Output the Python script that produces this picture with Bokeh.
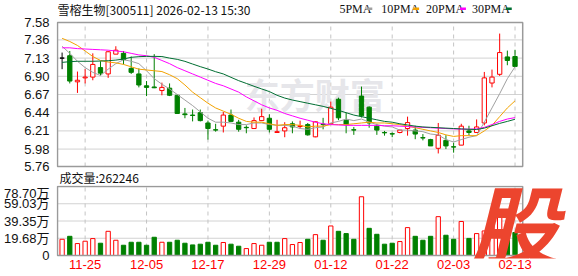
from bokeh.plotting import figure
from bokeh.models import Range1d, FixedTicker, ColumnDataSource
from bokeh.core.properties import value
from bokeh.layouts import column
from bokeh.embed import file_html
from bokeh.resources import INLINE

# ---------------- data ----------------
dates = ["11-20", "11-21", "11-24", "11-25", "11-26", "11-27", "11-28", "12-01", "12-02", "12-03",
         "12-04", "12-05", "12-08", "12-09", "12-10", "12-11", "12-12", "12-15", "12-16", "12-17",
         "12-18", "12-19", "12-22", "12-23", "12-24", "12-25", "12-26", "12-29", "12-30", "12-31",
         "01-05", "01-06", "01-07", "01-08", "01-09", "01-12", "01-13", "01-14", "01-15", "01-16",
         "01-19", "01-20", "01-21", "01-22", "01-23", "01-26", "01-27", "01-28", "01-29", "01-30",
         "02-02", "02-03", "02-04", "02-05", "02-06", "02-09", "02-10", "02-11", "02-12", "02-13"]

open_ = [7.13, 7.16, 6.83, 6.88, 6.89, 7.01, 6.93, 7.18, 7.19, 7.00,
         6.93, 6.78, 6.765, 6.72, 6.75, 6.66, 6.425, 6.41, 6.44, 6.31,
         6.225, 6.27, 6.41, 6.32, 6.255, 6.24, 6.34, 6.37, 6.19, 6.21,
         6.30, 6.265, 6.29, 6.135, 6.295, 6.30, 6.61, 6.345, 6.225, 6.65,
         6.51, 6.27, 6.19, 6.175, 6.19, 6.24, 6.22, 6.125, 6.10, 5.99,
         6.09, 6.01, 6.03, 6.21, 6.19, 6.31, 6.815, 6.925, 7.145, 7.15]
high = [7.20, 7.22, 6.96, 6.99, 7.19, 7.09, 7.22, 7.28, 7.22, 7.15,
        7.00, 6.84, 7.18, 6.82, 6.81, 6.67, 6.50, 6.48, 6.48, 6.34,
        6.30, 6.45, 6.48, 6.35, 6.28, 6.38, 6.49, 6.42, 6.35, 6.32,
        6.33, 6.34, 6.31, 6.33, 6.375, 6.58, 6.63, 6.44, 6.26, 6.77,
        6.52, 6.30, 6.21, 6.19, 6.225, 6.39, 6.275, 6.17, 6.11, 6.31,
        6.155, 6.06, 6.30, 6.275, 6.355, 6.955, 6.985, 7.44, 7.225, 7.235]
low = [6.99, 6.81, 6.69, 6.81, 6.85, 6.91, 6.88, 7.18, 7.05, 6.93,
       6.76, 6.65, 6.75, 6.66, 6.65, 6.43, 6.37, 6.33, 6.33, 6.10,
       6.20, 6.19, 6.33, 6.20, 6.18, 6.24, 6.34, 6.19, 6.19, 6.13,
       6.18, 6.24, 6.15, 6.13, 6.23, 6.30, 6.345, 6.18, 6.16, 6.38,
       6.25, 6.16, 6.15, 6.13, 6.18, 6.15, 6.105, 6.09, 6.02, 5.925,
       5.98, 5.935, 6.03, 6.155, 6.19, 6.28, 6.76, 6.905, 7.04, 7.025]
close = [7.13, 6.84, 6.85, 6.89, 7.05, 6.94, 7.21, 7.23, 7.11, 6.95,
         6.79, 6.76, 6.755, 6.76, 6.66, 6.43, 6.415, 6.405, 6.34, 6.24,
         6.22, 6.41, 6.33, 6.23, 6.25, 6.34, 6.39, 6.23, 6.20, 6.25,
         6.26, 6.275, 6.16, 6.325, 6.29, 6.51, 6.375, 6.29, 6.22, 6.40,
         6.31, 6.22, 6.185, 6.17, 6.22, 6.315, 6.17, 6.12, 6.02, 6.155,
         6.02, 6.005, 6.27, 6.19, 6.26, 6.88, 6.89, 7.20, 7.10, 7.025]
prev_close = 7.10

volume = [185000, 219000, 136000, 163000, 193000, 140000, 276000, 174000, 117000, 151000,
          151000, 117000, 208000, 151000, 151000, 174000, 140000, 121000, 129000, 151000,
          117000, 148000, 129000, 106000, 79000, 136000, 117000, 151000, 151000, 193000,
          125000, 148000, 185000, 238000, 174000, 337000, 276000, 250000, 185000, 670000,
          310000, 242000, 129000, 140000, 159000, 318000, 219000, 174000, 219000, 443000,
          231000, 185000, 388000, 195000, 250000, 280000, 455000, 520000, 325000, 262246]

ma5 = [7.28, 7.19, 7.09, 7.01, 6.95, 6.91, 6.99, 7.06, 7.11, 7.09,
       7.06, 6.97, 6.87, 6.80, 6.74, 6.67, 6.60, 6.53, 6.45, 6.37,
       6.32, 6.32, 6.31, 6.29, 6.29, 6.31, 6.31, 6.29, 6.28, 6.28,
       6.27, 6.24, 6.23, 6.25, 6.26, 6.31, 6.33, 6.36, 6.34, 6.36,
       6.32, 6.29, 6.27, 6.26, 6.22, 6.22, 6.21, 6.20, 6.17, 6.16,
       6.10, 6.07, 6.10, 6.13, 6.15, 6.32, 6.50, 6.68, 6.87, 7.02]
ma10 = [7.38, 7.34, 7.29, 7.22, 7.15, 7.10, 7.08, 7.07, 7.05, 7.02,
        6.99, 6.98, 6.97, 6.96, 6.92, 6.87, 6.79, 6.70, 6.63, 6.56,
        6.50, 6.46, 6.42, 6.37, 6.33, 6.32, 6.32, 6.30, 6.28, 6.29,
        6.29, 6.28, 6.26, 6.27, 6.27, 6.29, 6.29, 6.29, 6.30, 6.31,
        6.32, 6.31, 6.31, 6.30, 6.29, 6.27, 6.25, 6.23, 6.21, 6.19,
        6.16, 6.14, 6.15, 6.15, 6.15, 6.21, 6.28, 6.39, 6.50, 6.59]
ma20 = [7.26, 7.26, 7.25, 7.245, 7.24, 7.235, 7.23, 7.22, 7.21, 7.19,
        7.17, 7.16, 7.14, 7.10, 7.06, 7.01, 6.97, 6.93, 6.89, 6.85,
        6.81, 6.78, 6.74, 6.70, 6.64, 6.59, 6.54, 6.50, 6.47, 6.43,
        6.40, 6.37, 6.345, 6.32, 6.30, 6.29, 6.285, 6.28, 6.28, 6.28,
        6.28, 6.28, 6.275, 6.275, 6.27, 6.265, 6.26, 6.255, 6.25, 6.245,
        6.24, 6.235, 6.232, 6.232, 6.235, 6.255, 6.29, 6.33, 6.36, 6.378]
ma30 = [7.076, 7.085, 7.09, 7.09, 7.09, 7.093, 7.097, 7.105, 7.118, 7.14,
        7.148, 7.152, 7.152, 7.15, 7.13, 7.114, 7.089, 7.055, 7.022, 6.992,
        6.958, 6.93, 6.887, 6.845, 6.81, 6.774, 6.74, 6.707, 6.66, 6.625,
        6.60, 6.58, 6.56, 6.54, 6.52, 6.495, 6.47, 6.44, 6.41, 6.39,
        6.37, 6.35, 6.33, 6.32, 6.30, 6.285, 6.27, 6.26, 6.255, 6.25,
        6.245, 6.24, 6.235, 6.23, 6.228, 6.245, 6.275, 6.305, 6.33, 6.357]

price_ticks = [5.76, 5.98, 6.21, 6.44, 6.67, 6.90, 7.13, 7.36, 7.58]
price_tick_labels = ["5.76", "5.98", "6.21", "6.44", "6.67", "6.90", "7.13", "7.36", "7.58"]
vol_ticks = [0, 196750, 393500, 590250, 787000]
vol_tick_labels = ["0", "19.68万", "39.35万", "59.03万", "78.70万"]
label_idx = [3, 11, 19, 27, 35, 43, 51, 59]

title_text = "雪榕生物[300511] 2026-02-13 15:30"
vol_title = "成交量:262246"
legend_names = ["5PMA", "10PMA", "20PMA", "30PMA"]
ma_colors = ["#A0A0A0", "#F2A200", "#FF00FF", "#006E32"]
logo_text = "股"

RED = "#FF0000"
GREEN = "#008000"
BORDER = "#9A9A9A"
GRID = "#D2D2D2"
VGRID = "#C4C4C4"
FONT = "Liberation Sans"
CJK = "Noto Sans CJK SC"

# ---------------- derived styles ----------------
n = len(close)
idx = list(range(n))
c_col, c_fill = [], []
for o, c in zip(open_, close):
    if c > o:
        c_col.append(RED); c_fill.append("white")
    elif c < o:
        c_col.append(GREEN); c_fill.append(GREEN)
    else:
        c_col.append("black"); c_fill.append("black")
body_top = [max(o, c) for o, c in zip(open_, close)]
body_bot = [min(o, c) for o, c in zip(open_, close)]
prevs = [prev_close] + close[:-1]
v_col = [RED if c >= pc else GREEN for c, pc in zip(close, prevs)]
v_fill = ["white" if col == RED else GREEN for col in v_col]

src = ColumnDataSource(dict(x=idx, o=open_, h=high, l=low, c=close,
                            bt=body_top, bb=body_bot, col=c_col, fill=c_fill,
                            v=volume, vcol=v_col, vfill=v_fill))

# ---------------- geometry ----------------
XPX = 7.706              # pixels per candle slot
X0 = -0.73               # data x at frame left (canvas x = 54)
XL, XR = -0.6, 60.0      # panel borders in data x
FRAME_W = 578 - 54
def px_x(px):
    return X0 + (px - 54) / XPX

P_H = 185
PY = (price_ticks[-1] - price_ticks[0]) / 144.0
p_end = price_ticks[-1] + 22 * PY
p_start = price_ticks[0] - (P_H - 166) * PY
def px_py(py):
    return p_end - py * PY

# ---------------- price panel ----------------
p = figure(width=578, height=P_H, x_range=Range1d(X0, X0 + FRAME_W / XPX),
           y_range=Range1d(p_start, p_end),
           output_backend="svg", toolbar_location=None,
           min_border_left=54, min_border_right=0, min_border_top=0, min_border_bottom=0)
p.background_fill_color = "white"
p.border_fill_color = "white"
p.outline_line_color = None
p.xaxis.visible = False
p.xgrid.visible = False
p.ygrid.visible = False
p.yaxis.ticker = FixedTicker(ticks=price_ticks)
p.yaxis.major_label_overrides = {t: s for t, s in zip(price_ticks, price_tick_labels)}
p.yaxis.axis_line_color = None
p.yaxis.major_tick_line_color = None
p.yaxis.minor_tick_line_color = None
p.yaxis.major_label_standoff = 1
p.yaxis.major_label_text_font = FONT
p.yaxis.major_label_text_font_size = "13px"
p.yaxis.major_label_text_color = "#111111"

# grid lines within the panel
k = len(price_ticks) - 2
p.segment(x0=[XL] * k, y0=price_ticks[1:-1], x1=[XR] * k, y1=price_ticks[1:-1],
          line_color=GRID, line_width=1)
p.segment(x0=label_idx, y0=[price_ticks[0]] * len(label_idx), x1=label_idx,
          y1=[price_ticks[-1]] * len(label_idx), line_color=VGRID, line_dash="4 4", line_width=1)

# watermark
p.text(x=[px_x(243)], y=[px_py(93)], text=["东方财富"], text_font=value(CJK),
       text_font_size="35px", text_font_style="bold", text_color="#E6E6EA",
       text_baseline="middle")

# candles
p.segment(x0="x", y0="l", x1="x", y1="h", color="col", line_width=1, source=src)
p.vbar(x="x", width=0.56, top="bt", bottom="bb", fill_color="fill", line_color="col",
       line_width=1, source=src)
for ma, col in zip([ma5, ma10, ma20, ma30], ma_colors):
    p.line(idx, ma, line_color=col, line_width=1)

# panel border
p.quad(left=[XL], right=[XR], bottom=[price_ticks[0]], top=[price_ticks[-1]],
       fill_color=None, line_color=BORDER, line_width=1.5)

# header: title + legend
p.text(x=[px_x(55)], y=[px_py(8.5)], text=[title_text], text_font=value(CJK),
       text_font_size="12px", text_color="#111111", text_baseline="middle")
leg_text_x = [338, 380, 425, 471]
leg_dash_x = [365, 412, 459, 505]
p.text(x=[px_x(t) for t in leg_text_x], y=[px_py(8.5)] * 4, text=legend_names,
       text_font=value("Liberation Serif"), text_font_size="12px", text_color="#111111",
       text_baseline="middle")
p.quad(left=[px_x(d) for d in leg_dash_x], right=[px_x(d + 6) for d in leg_dash_x],
       bottom=[px_py(9.6)] * 4, top=[px_py(7.0)] * 4, fill_color=ma_colors, line_color=None)

# volume caption (sits between the panels)
p.text(x=[px_x(57)], y=[px_py(176.5)], text=[vol_title], text_font=value(CJK),
       text_font_size="12px", text_color="#111111", text_baseline="middle")

# ---------------- volume panel ----------------
V_H = 276 - P_H          # canvas rows 185..276
VY = vol_ticks[-1] / 69.0
v_end = vol_ticks[-1] + (186 - P_H) * VY
v_start = -(258 - 255) * VY
def px_vy(py):
    return (255 - py) * VY

v = figure(width=578, height=V_H, x_range=Range1d(X0, X0 + FRAME_W / XPX),
           y_range=Range1d(v_start, v_end),
           output_backend="svg", toolbar_location=None,
           min_border_left=54, min_border_right=0, min_border_top=0, min_border_bottom=18)
v.background_fill_color = "white"
v.border_fill_color = "white"
v.outline_line_color = None
v.xgrid.visible = False
v.ygrid.visible = False
v.yaxis.ticker = FixedTicker(ticks=vol_ticks)
v.yaxis.major_label_overrides = {t: s for t, s in zip(vol_ticks, vol_tick_labels)}
v.yaxis.axis_line_color = None
v.yaxis.major_tick_line_color = None
v.yaxis.minor_tick_line_color = None
v.yaxis.major_label_standoff = 1
v.yaxis.major_label_text_font = FONT + ", " + CJK
v.yaxis.major_label_text_font_size = "13px"
v.yaxis.major_label_text_color = "#111111"
v.xaxis.ticker = FixedTicker(ticks=label_idx)
v.xaxis.major_label_overrides = {i: dates[i] for i in label_idx}
v.xaxis.axis_line_color = None
v.xaxis.major_tick_line_color = None
v.xaxis.minor_tick_line_color = None
v.xaxis.major_tick_out = 0
v.xaxis.major_label_standoff = 1
v.xaxis.major_label_text_font = FONT
v.xaxis.major_label_text_font_size = "13px"
v.xaxis.major_label_text_color = RED

# grid lines within the panel
v.segment(x0=[XL] * 3, y0=vol_ticks[1:4], x1=[XR] * 3, y1=vol_ticks[1:4],
          line_color=GRID, line_width=1)
v.segment(x0=label_idx, y0=[0] * len(label_idx), x1=label_idx,
          y1=[vol_ticks[-1]] * len(label_idx), line_color=VGRID, line_dash="4 4", line_width=1)

v.vbar(x="x", width=0.56, top="v", bottom=0, fill_color="vfill", line_color="vcol",
       line_width=1, source=src)

v.quad(left=[XL], right=[XR], bottom=[0], top=[vol_ticks[-1]],
       fill_color=None, line_color=BORDER, line_width=1.5)

v.text(x=[px_x(513)], y=[px_vy(221)], text=[logo_text], text_font=value(CJK),
       text_font_size="88px", text_font_style="bold italic", text_color="#EC452E",
       text_align="center", text_baseline="middle")

layout = column(p, v, spacing=0)
open("out.html", "w").write(file_html(layout, INLINE))
